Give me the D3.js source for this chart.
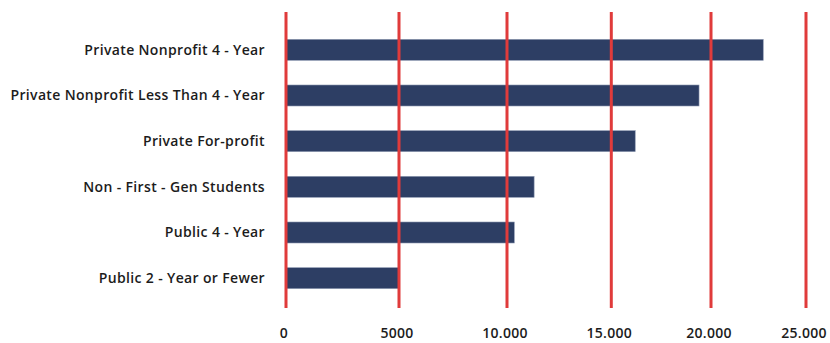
<!DOCTYPE html>
<html>
<head>
<meta charset="utf-8">
<script src="https://cdn.jsdelivr.net/npm/d3@7"></script>
<style>
  html, body { margin: 0; padding: 0; background: #ffffff; }
  svg { display: block; }
  .cat { font-family: "Open Sans", sans-serif; font-weight: 600; font-size: 14px; letter-spacing: 0.35px; fill: #1c1c1c; }
  .tick-label { font-family: "Open Sans", sans-serif; font-weight: 600; font-size: 14px; letter-spacing: 0.3px; fill: #1c1c1c; }
</style>
</head>
<body>
<svg id="chart" width="830" height="343"></svg>
<script>
// Categories, top to bottom
const categories = [
  "Private Nonprofit 4 - Year",
  "Private Nonprofit Less Than 4 - Year",
  "Private For-profit",
  "Non - First - Gen Students",
  "Public 4 - Year",
  "Public 2 - Year or Fewer"
];
// Values per category
const values = [22750, 19400, 16200, 11300, 10350, 5000];
// Axis ticks and their printed labels
const tickValues = [0, 5000, 10000, 15000, 20000, 25000];
const tickLabels = ["0", "5000", "10.000", "15.000", "20.000", "25.000"];

const svg = d3.select("#chart");

// Horizontal value scale: the axis is drawn with slightly narrowing intervals,
// so each tick interval gets its own linear segment.
const gridX = [286, 399, 507, 611.3, 711, 806];
const x = d3.scaleLinear().domain(tickValues).range(gridX);

const y = d3.scaleBand()
  .domain(categories)
  .range([27, 301])
  .paddingInner(0.54)
  .paddingOuter(0.27);

// Bars
svg.append("g")
  .selectAll("rect")
  .data(categories)
  .join("rect")
  .attr("x", x(0))
  .attr("y", d => y(d))
  .attr("width", (d, i) => x(values[i]) - x(0))
  .attr("height", y.bandwidth())
  .attr("fill", "#2d3e64")
  .attr("stroke", "#8e9ab2")
  .attr("stroke-width", 0.6);

// Red vertical grid lines, drawn over the bars
svg.append("g")
  .selectAll("line")
  .data(tickValues)
  .join("line")
  .attr("x1", d => x(d))
  .attr("x2", d => x(d))
  .attr("y1", 12)
  .attr("y2", 308)
  .attr("stroke", "#e03b3b")
  .attr("stroke-width", 3);

// Category labels
svg.append("g")
  .selectAll("text")
  .data(categories)
  .join("text")
  .attr("class", "cat")
  .attr("x", 265)
  .attr("y", d => y(d) + y.bandwidth() / 2)
  .attr("dy", "0.35em")
  .attr("text-anchor", "end")
  .text(d => d);

// Tick labels along the bottom
svg.append("g")
  .selectAll("text")
  .data(tickValues)
  .join("text")
  .attr("class", "tick-label")
  .attr("x", d => x(d) - 2)
  .attr("y", 338)
  .attr("text-anchor", "middle")
  .text((d, i) => tickLabels[i]);
</script>
</body>
</html>
